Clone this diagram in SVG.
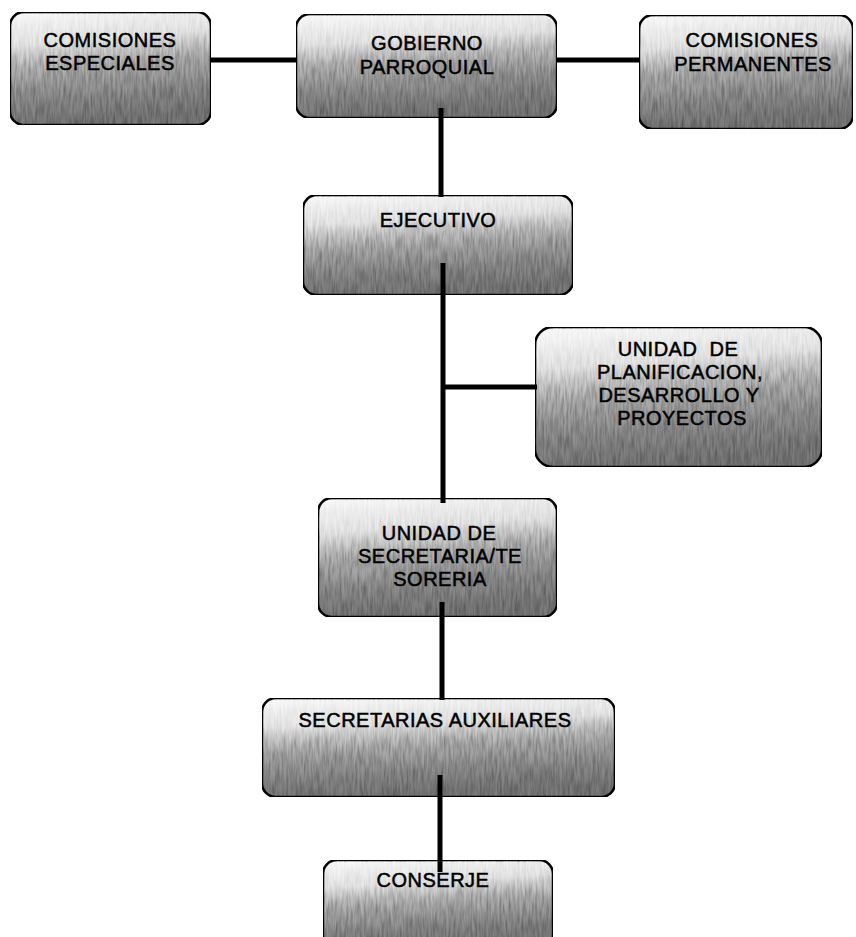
<svg xmlns="http://www.w3.org/2000/svg" width="856" height="937" viewBox="0 0 856 937">
<defs>
<linearGradient id="g" x1="0" y1="0" x2="0.15" y2="1">
<stop offset="0" stop-color="#fbfbfb"/>
<stop offset="0.3" stop-color="#e8e8e8"/>
<stop offset="0.55" stop-color="#b0b0b0"/>
<stop offset="0.8" stop-color="#8e8e8e"/>
<stop offset="1" stop-color="#7c7c7c"/>
</linearGradient>
<filter id="n" x="0" y="0" width="100%" height="100%">
<feTurbulence type="fractalNoise" baseFrequency="0.45 0.06" numOctaves="2" seed="5" result="t"/>
<feColorMatrix in="t" type="matrix" values="0 0 0 0 0  0 0 0 0 0  0 0 0 0 0  0 0 0 0.9 -0.25" result="a"/>
<feColorMatrix in="SourceGraphic" type="matrix" values="0 0 0 0 0  0 0 0 0 0  0 0 0 0 0  -2.2 0 0 0 2.2" result="dk"/>
<feComposite in="a" in2="dk" operator="arithmetic" k1="1" k2="0" k3="0" k4="0" result="m1"/>
<feComposite in="m1" in2="SourceGraphic" operator="in" result="m"/>
<feMerge><feMergeNode in="SourceGraphic"/><feMergeNode in="m"/></feMerge>
</filter>
<style>
.box{fill:url(#g);stroke:#111;stroke-width:2.5;filter:url(#n)}
.t{font-family:"Liberation Sans",Arial,sans-serif;font-size:20px;letter-spacing:0.5px;fill:#000;text-anchor:middle;stroke:#000;stroke-width:0.5}
.c{stroke:#000;stroke-width:5;fill:none}
</style>
</defs>
<g id="comisiones-especiales">
<rect class="box" x="10" y="12" width="201" height="113" rx="14"/>
<text class="t" x="110" y="47">COMISIONES</text>
<text class="t" x="110" y="70">ESPECIALES</text>
</g>
<g id="gobierno-parroquial">
<rect class="box" x="296" y="14" width="261" height="104" rx="14"/>
<text class="t" x="427" y="50">GOBIERNO</text>
<text class="t" x="427" y="74">PARROQUIAL</text>
</g>
<g id="comisiones-permanentes">
<rect class="box" x="639" y="15" width="214" height="114" rx="14"/>
<text class="t" x="752" y="47">COMISIONES</text>
<text class="t" x="753" y="71">PERMANENTES</text>
</g>
<g id="ejecutivo">
<rect class="box" x="303" y="195" width="270" height="100" rx="14"/>
<text class="t" x="438" y="227">EJECUTIVO</text>
</g>
<g id="unidad-planificacion">
<rect class="box" x="535" y="327" width="287" height="140" rx="18"/>
<text class="t" x="678" y="356" xml:space="preserve">UNIDAD  DE</text>
<text class="t" x="680" y="379">PLANIFICACION,</text>
<text class="t" x="679" y="402">DESARROLLO Y</text>
<text class="t" x="682" y="425">PROYECTOS</text>
</g>
<g id="unidad-secretaria">
<rect class="box" x="318" y="498" width="239" height="119" rx="14"/>
<text class="t" x="439" y="540">UNIDAD DE</text>
<text class="t" x="440" y="563">SECRETARIA/TE</text>
<text class="t" x="440" y="586">SORERIA</text>
</g>
<g id="secretarias-auxiliares">
<rect class="box" x="262" y="698" width="353" height="99" rx="14"/>
<text class="t" x="435" y="727">SECRETARIAS AUXILIARES</text>
</g>
<g id="conserje">
<rect class="box" x="323" y="860" width="230" height="90" rx="14"/>
<text class="t" x="433" y="887">CONSERJE</text>
</g>
<g id="connectors">
<line class="c" x1="211" y1="60" x2="296" y2="60"/>
<line class="c" x1="557" y1="60" x2="639" y2="60"/>
<line class="c" x1="441" y1="108" x2="441" y2="197"/>
<line class="c" x1="443" y1="263" x2="443" y2="503"/>
<line class="c" x1="443" y1="387" x2="537" y2="387"/>
<line class="c" x1="442" y1="602" x2="442" y2="700"/>
<line class="c" x1="440" y1="775" x2="440" y2="872"/>
</g>
</svg>
